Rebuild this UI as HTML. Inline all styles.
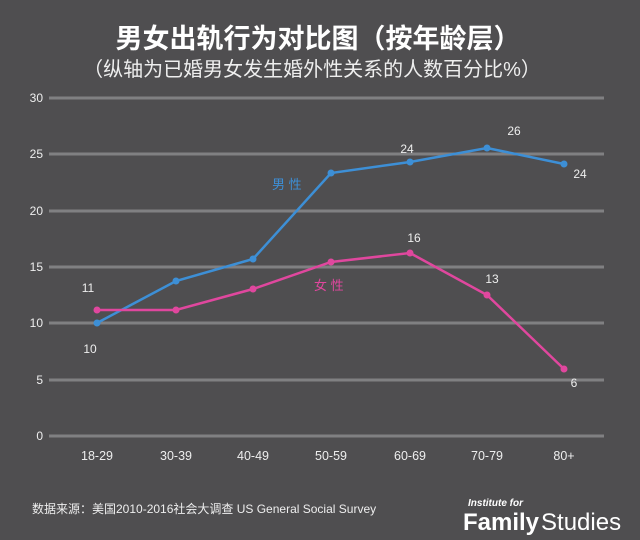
<!DOCTYPE html>
<html><head><meta charset="utf-8"><style>
body{margin:0;background:#4f4e50;}
svg{display:block}
text{font-family:"Liberation Sans","Noto Sans CJK SC",sans-serif;}
</style></head><body>
<svg width="640" height="540" viewBox="0 0 640 540">
<rect width="640" height="540" fill="#4f4e50"/>
<text x="318" y="48" text-anchor="middle" fill="#fff" font-size="27" font-weight="bold">男女出轨行为对比图（按年龄层）</text>
<text x="312" y="76" text-anchor="middle" fill="#eee" font-size="20">（纵轴为已婚男女发生婚外性关系的人数百分比%）</text>
<g stroke="#808082" stroke-width="3">
<line x1="49" x2="604" y1="98" y2="98"/><line x1="49" x2="604" y1="154" y2="154"/>
<line x1="49" x2="604" y1="211" y2="211"/><line x1="49" x2="604" y1="267" y2="267"/>
<line x1="49" x2="604" y1="323" y2="323"/><line x1="49" x2="604" y1="380" y2="380"/>
<line x1="49" x2="604" y1="436" y2="436"/></g>
<g fill="#eee" font-size="12" text-anchor="end">
<text x="43" y="102">30</text><text x="43" y="158">25</text><text x="43" y="215">20</text>
<text x="43" y="271">15</text><text x="43" y="327">10</text><text x="43" y="384">5</text><text x="43" y="440">0</text></g>
<g fill="#eee" font-size="12.5" text-anchor="middle">
<text x="97" y="460">18-29</text><text x="176" y="460">30-39</text><text x="253" y="460">40-49</text>
<text x="331" y="460">50-59</text><text x="410" y="460">60-69</text><text x="487" y="460">70-79</text><text x="564" y="460">80+</text></g>
<polyline fill="none" stroke="#3d8fd6" stroke-width="2.5" points="97,323 176,281 253,259 331,173 410,162 487,148 564,164"/>
<g fill="#3d8fd6"><circle cx="97" cy="323" r="3.5"/><circle cx="176" cy="281" r="3.5"/><circle cx="253" cy="259" r="3.5"/><circle cx="331" cy="173" r="3.5"/><circle cx="410" cy="162" r="3.5"/><circle cx="487" cy="148" r="3.5"/><circle cx="564" cy="164" r="3.5"/></g>
<polyline fill="none" stroke="#e0479e" stroke-width="2.5" points="97,310 176,310 253,289 331,262 410,253 487,295 564,369"/>
<g fill="#e0479e"><circle cx="97" cy="310" r="3.5"/><circle cx="176" cy="310" r="3.5"/><circle cx="253" cy="289" r="3.5"/><circle cx="331" cy="262" r="3.5"/><circle cx="410" cy="253" r="3.5"/><circle cx="487" cy="295" r="3.5"/><circle cx="564" cy="369" r="3.5"/></g>
<text x="272" y="189" fill="#3d8fd6" font-size="13">男 性</text>
<text x="314" y="290" fill="#e0479e" font-size="13">女 性</text>
<g fill="#eee" font-size="12" text-anchor="middle">
<text x="88" y="292">11</text><text x="90" y="353">10</text><text x="407" y="153">24</text>
<text x="514" y="135">26</text><text x="580" y="178">24</text><text x="414" y="242">16</text>
<text x="492" y="283">13</text><text x="574" y="387">6</text></g>
<text x="32" y="513" fill="#eee" font-size="12">数据来源：美国2010-2016社会大调查  US General Social Survey</text>
<text x="468" y="506" fill="#fff" font-size="10" font-style="italic" font-family="Liberation Serif,serif" font-weight="bold">Institute for</text>
<text x="463" y="530" fill="#fff" font-size="24"><tspan font-weight="bold">Family</tspan><tspan dx="2">Studies</tspan></text>
</svg>
</body></html>
